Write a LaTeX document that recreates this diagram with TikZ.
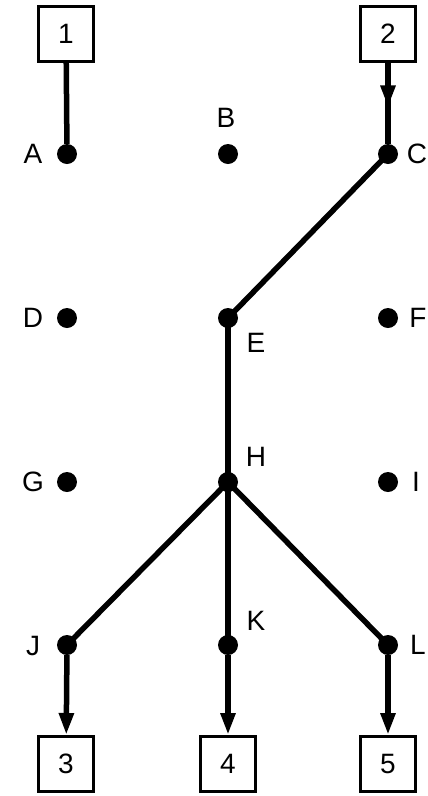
\documentclass[tikz,border=0pt]{standalone}
\usepackage{fontspec}
\setmainfont{Liberation Sans}
\usetikzlibrary{arrows.meta,decorations.markings}
\begin{document}
\begin{tikzpicture}[x=1pt,y=-1pt,
  font=\fontsize{28}{32}\selectfont,
  dot/.style={circle,fill=black,inner sep=0pt,minimum size=20pt},
  term/.style={draw,line width=3pt,minimum size=55pt,inner sep=0pt},
  lab/.style={inner sep=0pt},
  wire/.style={line width=5.5pt},
  tip/.style={-{Triangle[length=22pt,width=14pt]}},
  midtip/.style={postaction={decorate},decoration={markings,
    mark=at position 0.55 with {\arrow{Triangle[length=22pt,width=14pt]}}}}]
\useasboundingbox (0,0) rectangle (428,796);

% terminal boxes
\node[term] (t1) at (66,34) {1};
\node[term] (t2) at (388,34) {2};
\node[term] (t3) at (66,764) {3};
\node[term] (t4) at (228,764) {4};
\node[term] (t5) at (388,764) {5};

% grid of junction points
\node[dot] (A) at (67,154) {};
\node[dot] (B) at (228,154) {};
\node[dot] (C) at (388,154) {};
\node[dot] (D) at (67,318) {};
\node[dot] (E) at (228,318) {};
\node[dot] (F) at (388,318) {};
\node[dot] (G) at (67,482) {};
\node[dot] (H) at (228,482) {};
\node[dot] (I) at (388,482) {};
\node[dot] (J) at (67,645) {};
\node[dot] (K) at (228,645) {};
\node[dot] (L) at (388,645) {};

% point labels
\node[lab] (lA) at (33,154) {A};
\node[lab] (lB) at (226,118) {B};
\node[lab] (lC) at (417,154) {C};
\node[lab] (lD) at (33,318) {D};
\node[lab] (lE) at (256,343) {E};
\node[lab] (lF) at (418,318) {F};
\node[lab] (lG) at (33,482) {G};
\node[lab] (lH) at (256,457) {H};
\node[lab] (lI) at (416,482) {I};
\node[lab] (lJ) at (33,646) {J};
\node[lab] (lK) at (256,621) {K};
\node[lab] (lL) at (418,645) {L};

% connections
\draw[wire] (t1) -- (A);
\draw[wire,midtip] (t2) -- (C);
\draw[wire] (C.center) -- (E.center);
\draw[wire] (E.center) -- (H.center);
\draw[wire] (H.center) -- (J.center);
\draw[wire] (H.center) -- (K.center);
\draw[wire] (H.center) -- (L.center);
\draw[wire,tip] (J) -- (t3);
\draw[wire,tip] (K) -- (t4);
\draw[wire,tip] (L) -- (t5);
\end{tikzpicture}
\end{document}
